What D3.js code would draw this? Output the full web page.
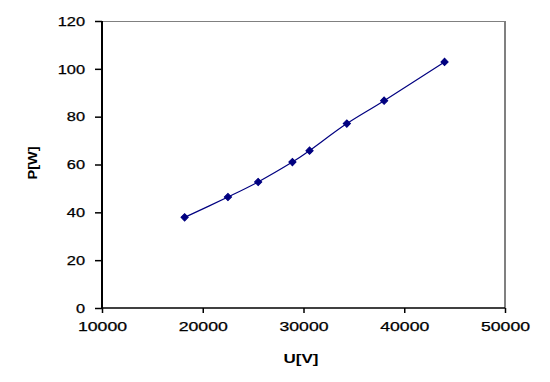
<!DOCTYPE html>
<html><head><meta charset="utf-8">
<script src="https://cdn.jsdelivr.net/npm/d3@7"></script>
<style>html,body{margin:0;padding:0;background:#fff;}svg{display:block;}</style>
</head><body>
<svg id="c" width="550" height="382"></svg>
<script>
const voltage = [18200, 22500, 25500, 28900, 30600, 34300, 38000, 44000];
const power   = [37.9, 46.4, 52.7, 61.0, 65.8, 77.1, 86.7, 102.9];
const xTicks = [10000, 20000, 30000, 40000, 50000];
const yTicks = [0, 20, 40, 60, 80, 100, 120];
const xTitle = "U[V]";
const yTitle = "P[W]";

const svg = d3.select("#c");
const L = 102, R = 505, T = 21, B = 308;
const x = d3.scaleLinear().domain([10000, 50000]).range([L, R]);
const y = d3.scaleLinear().domain([0, 120]).range([B, T]);
const font = "'Liberation Sans', Arial, sans-serif";

// plot area border (grey top/right)
svg.append("line").attr("x1", L).attr("x2", R).attr("y1", T + 0.5).attr("y2", T + 0.5)
  .attr("stroke", "#808080").attr("stroke-width", 1);
svg.append("line").attr("x1", R).attr("x2", R).attr("y1", T).attr("y2", B)
  .attr("stroke", "#808080").attr("stroke-width", 2);

// axes
const xAxis = svg.append("g").attr("transform", `translate(0,${B})`)
  .call(d3.axisBottom(x).tickValues(xTicks).tickSize(5).tickFormat(d3.format("d")));
const yAxis = svg.append("g").attr("transform", `translate(${L},0)`)
  .call(d3.axisLeft(y).tickValues(yTicks).tickSize(7).tickFormat(d3.format("d")));

xAxis.select(".domain").attr("stroke", "#000").attr("stroke-width", 1.5).attr("d", `M${L},0H${R}`);
yAxis.select(".domain").attr("stroke", "#000").attr("stroke-width", 2).attr("d", `M0,${T}V${B}`);
[xAxis, yAxis].forEach(a => a.selectAll(".tick line").attr("stroke", "#000").attr("stroke-width", 1.5));

xAxis.selectAll(".tick text")
  .attr("y", 23).attr("dy", "0")
  .attr("font-family", font).attr("font-size", 12).attr("fill", "#000")
  .attr("stroke", "#000").attr("stroke-width", 0.25)
  .attr("textLength", d => String(d).length * 9.8).attr("lengthAdjust", "spacingAndGlyphs");
yAxis.selectAll(".tick text")
  .attr("x", -17).attr("dy", "0.36em")
  .attr("font-family", font).attr("font-size", 12).attr("fill", "#000")
  .attr("stroke", "#000").attr("stroke-width", 0.25)
  .attr("textLength", d => String(d).length * 9.1).attr("lengthAdjust", "spacingAndGlyphs");

// titles
svg.append("text").attr("x", 301).attr("y", 363).attr("text-anchor", "middle")
  .attr("font-family", font).attr("font-size", 13).attr("font-weight", "bold")
  .attr("textLength", 35).attr("lengthAdjust", "spacingAndGlyphs").text(xTitle);
svg.append("text").attr("transform", "translate(37,163) rotate(-90)").attr("text-anchor", "middle")
  .attr("font-family", font).attr("font-size", 13).attr("font-weight", "bold")
  .attr("textLength", 33).attr("lengthAdjust", "spacingAndGlyphs").text(yTitle);

// data
const pts = voltage.map((v, i) => [v, power[i]]);
const line = d3.line().x(d => x(d[0])).y(d => y(d[1])).curve(d3.curveCardinal.tension(0));
svg.append("path").datum(pts).attr("d", line)
  .attr("fill", "none").attr("stroke", "#000080").attr("stroke-width", 1.2);
svg.selectAll(".m").data(pts).enter().append("path")
  .attr("transform", d => `translate(${x(d[0])},${y(d[1])}) rotate(45)`)
  .attr("d", d3.symbol().type(d3.symbolSquare).size(26))
  .attr("fill", "#000080").attr("stroke", "#000080").attr("stroke-width", 1);
</script>
</body></html>
